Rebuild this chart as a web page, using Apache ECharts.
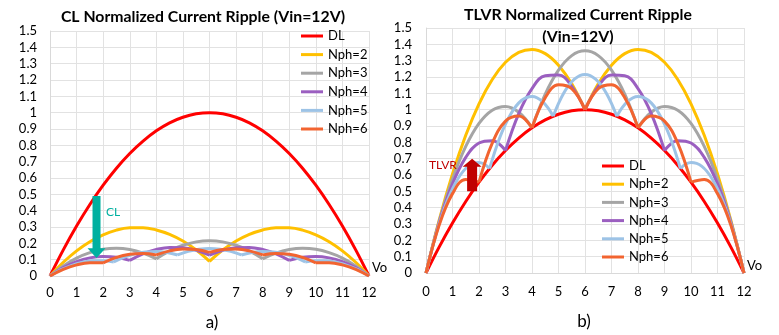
<!DOCTYPE html>
<html><head><meta charset="utf-8">
<script src="https://cdn.jsdelivr.net/npm/echarts@6/dist/echarts.min.js"></script>
<style>html,body{margin:0;padding:0;background:#fff}#c{width:779px;height:335px}</style>
</head><body><div id="c"></div>
<script>
// ---------- data ----------
const voStep05 = [0,0.5,1,1.5,2,2.5,3,3.5,4,4.5,5,5.5,6,6.5,7,7.5,8,8.5,9,9.5,10,10.5,11,11.5,12];
const voStep04 = [0,0.4,0.8,1.2,1.6,2,2.4,2.8,3.2,3.6,4,4.4,4.8,5.2,5.6,6,6.4,6.8,7.2,7.6,8,8.4,8.8,9.2,9.6,10,10.4,10.8,11.2,11.6,12];
const seriesNames = ['DL','Nph=2','Nph=3','Nph=4','Nph=5','Nph=6'];
const seriesColors = ['#FF0000','#FFC000','#A5A5A5','#9B5FC0','#9DC3E6','#F26430'];

const dl    = [0,0.160,0.306,0.438,0.556,0.660,0.75,0.826,0.889,0.938,0.972,0.993,1.0,0.993,0.972,0.938,0.889,0.826,0.75,0.660,0.556,0.438,0.306,0.160,0];

const clN2  = [0,0.084,0.154,0.210,0.252,0.281,0.295,0.296,0.282,0.255,0.214,0.159,0.09,0.159,0.214,0.255,0.282,0.296,0.295,0.281,0.252,0.210,0.154,0.084,0];
const clN3  = [0,0.062,0.110,0.143,0.164,0.170,0.162,0.140,0.105,0.154,0.188,0.209,0.216,0.209,0.188,0.154,0.105,0.140,0.162,0.170,0.164,0.143,0.110,0.062,0];
const clN4  = [0,0.051,0.088,0.111,0.120,0.115,0.096,0.136,0.162,0.175,0.173,0.157,0.128,0.157,0.173,0.175,0.162,0.136,0.096,0.115,0.120,0.111,0.088,0.051,0];
const clN5  = [0,0.037,0.064,0.083,0.093,0.094,0.086,0.115,0.136,0.147,0.150,0.144,0.129,0.151,0.164,0.169,0.164,0.151,0.129,0.144,0.150,0.147,0.136,0.115,0.086,0.094,0.093,0.083,0.064,0.037,0];
const clN6  = [0,0.041,0.068,0.081,0.081,0.114,0.133,0.138,0.129,0.154,0.165,0.162,0.145,0.162,0.165,0.154,0.129,0.138,0.133,0.114,0.081,0.081,0.068,0.041,0];

const tlvrN2 = [0,0.325,0.606,0.843,1.036,1.185,1.29,1.351,1.369,1.343,1.272,1.158,1.0,1.158,1.272,1.343,1.369,1.351,1.29,1.185,1.036,0.843,0.606,0.325,0];
const tlvrN3 = [0,0.317,0.576,0.775,0.916,0.997,1.02,0.984,0.889,1.095,1.242,1.331,1.36,1.331,1.242,1.095,0.889,0.984,1.02,0.997,0.916,0.775,0.576,0.317,0];
const tlvrN4 = [0,0.31,0.546,0.708,0.796,0.81,0.75,0.976,1.129,1.208,1.212,1.143,1.0,1.143,1.212,1.208,1.129,0.976,0.75,0.81,0.796,0.708,0.546,0.31,0];
const tlvrN5 = [0,0.249,0.441,0.576,0.654,0.676,0.64,0.836,0.974,1.056,1.081,1.049,0.96,1.102,1.187,1.216,1.187,1.102,0.96,1.049,1.081,1.056,0.974,0.836,0.64,0.676,0.654,0.576,0.441,0.249,0];
const tlvrN6 = [0,0.295,0.486,0.573,0.556,0.795,0.93,0.961,0.889,1.073,1.152,1.128,1.0,1.128,1.152,1.073,0.889,0.961,0.93,0.795,0.556,0.573,0.486,0.295,0];

// cusp positions (Vo) where curves have sharp corners
const cuspsDL = [];
const cuspsN2 = [6];
const cuspsN3 = [4,8];
const cuspsN4 = [3,6,9];
const cuspsN5 = [2.4,4.8,7.2,9.6];
const cuspsN6 = [2,4,6,8,10];

// annotation arrows: [Vo, start, head base, tip]
const clArrow   = [1.75, 0.49, 0.17, 0.11];
const tlvrArrow = [1.74, 0.50, 0.65, 0.70];

// ---------- build ----------
const FONT = "Lato, 'Open Sans', sans-serif";
function build(xs, ys, cusps){
  const out = [];
  xs.forEach((x,i)=>{
    out.push([x, ys[i]]);
    if (cusps.indexOf(x) >= 0) { out.push([x, null]); out.push([x, ys[i]]); }
  });
  return out;
}
const leftSets  = [[voStep05,dl,cuspsDL],[voStep05,clN2,cuspsN2],[voStep05,clN3,cuspsN3],[voStep05,clN4,cuspsN4],[voStep04,clN5,cuspsN5],[voStep05,clN6,cuspsN6]];
const rightSets = [[voStep05,dl,cuspsDL],[voStep05,tlvrN2,cuspsN2],[voStep05,tlvrN3,cuspsN3],[voStep05,tlvrN4,cuspsN4],[voStep04,tlvrN5,cuspsN5],[voStep05,tlvrN6,cuspsN6]];

const series = [];
[leftSets, rightSets].forEach((sets, g)=>{
  sets.forEach((s, i)=>{
    series.push({
      type:'line', name: seriesNames[i], xAxisIndex:g, yAxisIndex:g,
      data: build(s[0], s[1], s[2]),
      symbol:'none', smooth:0.4, connectNulls:false,
      lineStyle:{width:3, color: seriesColors[i]},
      itemStyle:{color: seriesColors[i]},
      z: 2 + i
    });
  });
});

const gridLine = {show:true, lineStyle:{color:'#e2e2e2', width:1}};
function xAx(g, margin){ return {type:'value', gridIndex:g, min:0, max:12, interval:1,
  axisLine:{show:true, lineStyle:{color:'#d9d9d9'}}, axisTick:{show:false}, splitLine:gridLine,
  axisLabel:{color:'#000', fontSize:13, fontFamily:FONT, margin:margin}}; }
function yAx(g, margin){ return {type:'value', gridIndex:g, min:0, max:1.5, interval:0.1,
  axisLine:{show:true, lineStyle:{color:'#d9d9d9'}}, axisTick:{show:false}, splitLine:gridLine,
  axisLabel:{color:'#000', fontSize:13, fontFamily:FONT, margin:margin,
    formatter: v => String(Math.round(v*10)/10)}}; }

const legendBase = {data: seriesNames, orient:'vertical', icon:'rect', itemWidth:22, itemHeight:3,
  selectedMode:false, textStyle:{fontSize:13, color:'#000', fontFamily:FONT, lineHeight:14}, padding:0};

const chart = echarts.init(document.getElementById('c'), null, {renderer:'canvas'});
chart.setOption({
  animation:false,
  backgroundColor:'#fff',
  grid:[{left:50, top:31, width:319, height:245},{left:426, top:28, width:318, height:245}],
  xAxis:[xAx(0,10), xAx(1,12)],
  yAxis:[yAx(0,13), yAx(1,14)],
  legend:[Object.assign({left:301, top:29, itemGap:4.6}, legendBase),
          Object.assign({left:602, top:159, itemGap:4.2}, legendBase)],
  series: series
});

function arrowPts(gi, a){
  const s = chart.convertToPixel({gridIndex:gi}, [a[0], a[1]]);
  const b = chart.convertToPixel({gridIndex:gi}, [a[0], a[2]]);
  const t = chart.convertToPixel({gridIndex:gi}, [a[0], a[3]]);
  return {s, b, t};
}
function arrowShape(p, shaft, head){
  const x = p.s[0];
  return [[x-shaft/2,p.s[1]],[x+shaft/2,p.s[1]],[x+shaft/2,p.b[1]],[x+head/2,p.b[1]],[x,p.t[1]],[x-head/2,p.b[1]],[x-shaft/2,p.b[1]]];
}
const pa = arrowPts(0, clArrow);
const pb = arrowPts(1, tlvrArrow);

function txt(x,y,t,size,opts){
  return Object.assign({type:'text', x:x, y:y, z:100, style:Object.assign({text:t, fontSize:size, fontFamily:FONT,
    fill:'#000', textAlign:'center', textVerticalAlign:'middle'}, opts||{})});
}
chart.setOption({
  graphic:[
    txt(203,17,'CL Normalized Current Ripple (Vin=12V)',15.8,{fontWeight:'bold'}),
    txt(578,15,'TLVR Normalized Current Ripple',15.8,{fontWeight:'bold'}),
    txt(578,37,'(Vin=12V)',15.8,{fontWeight:'bold'}),
    txt(212,323,'a)',17),
    txt(584,322,'b)',17),
    txt(372,268,'Vo',13,{textAlign:'left'}),
    txt(747,266,'Vo',13,{textAlign:'left'}),
    txt(106,212,'CL',12,{textAlign:'left', fill:'#00B0A0'}),
    txt(429,165,'TLVR',12,{textAlign:'left', fill:'#C00000'}),
    {type:'polygon', z:90, shape:{points: arrowShape(pa, 8, 18)}, style:{fill:'#00B0A0'}},
    {type:'polygon', z:90, shape:{points: arrowShape(pb, 10, 19)}, style:{fill:'#C00000'}}
  ]
});
</script></body></html>
